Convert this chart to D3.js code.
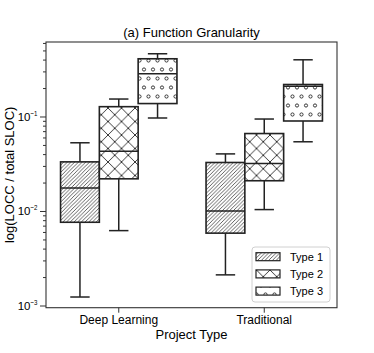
<!DOCTYPE html>
<html>
<head>
<meta charset="utf-8">
<script src="https://cdn.jsdelivr.net/npm/d3@7"></script>
<style>
  body { margin: 0; background: #fff; }
  svg text { font-family: "Liberation Sans", Arial, sans-serif; fill: #000; }
</style>
</head>
<body>
<svg id="chart" width="374" height="353"></svg>
<script>
// data: [whisker low, q1, median, q3, whisker high]
var categories = ['Deep Learning', 'Traditional'];
var types = ['Type 1', 'Type 2', 'Type 3'];
var type1Stats = [[0.00123, 0.0076, 0.0175, 0.0331, 0.0527], [0.00211, 0.00583, 0.0100, 0.0326, 0.0402]];
var type2Stats = [[0.0062, 0.0219, 0.043, 0.127, 0.153], [0.01035, 0.0209, 0.0318, 0.066, 0.094]];
var type3Stats = [[0.0964, 0.137, 0.283, 0.408, 0.461], [0.054, 0.0896, 0.209, 0.218, 0.398]];
var majorTicks = [1e-3, 1e-2, 1e-1];
var tickExponents = ['\u22123', '\u22122', '\u22121'];

var stats = [type1Stats, type2Stats, type3Stats];

var svg = d3.select('#chart');
var plotLeft = 46, plotRight = 337, plotTop = 42, plotBottom = 307.7;

var x = d3.scaleBand().domain(categories).range([plotLeft, plotRight]).padding(0);
var xHue = d3.scaleBand().domain(types).range([x.bandwidth() * 0.1, x.bandwidth() * 0.9]);
var y = d3.scaleLog().domain([0.000948, 0.614]).range([plotBottom, plotTop]);

var ink = '#222';

// hatch patterns
var defs = svg.append('defs');
var d1 = 3.7;
var p1 = defs.append('pattern').attr('id', 'h1').attr('patternUnits', 'userSpaceOnUse')
  .attr('width', d1).attr('height', d1);
p1.append('path').attr('d', 'M-1,1 L1,-1 M0,' + d1 + ' L' + d1 + ',0 M' + (d1 - 1) + ',' + (d1 + 1) + ' L' + (d1 + 1) + ',' + (d1 - 1))
  .attr('stroke', '#2a2a2a').attr('stroke-width', 0.75);

var p2 = defs.append('pattern').attr('id', 'h2').attr('patternUnits', 'userSpaceOnUse')
  .attr('width', 13.5).attr('height', 13.5);
p2.append('path').attr('d', 'M0,0 L13.5,13.5 M0,13.5 L13.5,0')
  .attr('stroke', ink).attr('stroke-width', 0.9);

var p3 = defs.append('pattern').attr('id', 'h3').attr('patternUnits', 'userSpaceOnUse')
  .attr('width', 9).attr('height', 18).attr('y', 2);
[[4.5, 4.5], [0, 13.5], [9, 13.5]].forEach(function(c) {
  p3.append('circle').attr('cx', c[0]).attr('cy', c[1]).attr('r', 1.6)
    .attr('fill', 'none').attr('stroke', ink).attr('stroke-width', 0.9);
});
var fills = ['url(#h1)', 'url(#h2)', 'url(#h3)'];

// boxes
var g = svg.append('g');
types.forEach(function(t, ti) {
  categories.forEach(function(c, ci) {
    var s = stats[ti][ci];
    var x0 = x(c) + xHue(t), w = xHue.bandwidth(), cx = x0 + w / 2;
    var bg = g.append('g');
    bg.append('line').attr('x1', cx).attr('x2', cx).attr('y1', y(s[0])).attr('y2', y(s[1]))
      .attr('stroke', ink).attr('stroke-width', 1.5);
    bg.append('line').attr('x1', cx).attr('x2', cx).attr('y1', y(s[3])).attr('y2', y(s[4]))
      .attr('stroke', ink).attr('stroke-width', 1.5);
    [s[0], s[4]].forEach(function(v) {
      bg.append('line').attr('x1', cx - w / 4).attr('x2', cx + w / 4).attr('y1', y(v)).attr('y2', y(v))
        .attr('stroke', ink).attr('stroke-width', 1.5);
    });
    bg.append('rect').attr('x', x0).attr('y', y(s[3])).attr('width', w).attr('height', y(s[1]) - y(s[3]))
      .attr('fill', '#fff');
    bg.append('rect').attr('x', x0).attr('y', y(s[3])).attr('width', w).attr('height', y(s[1]) - y(s[3]))
      .attr('fill', fills[ti]).attr('stroke', ink).attr('stroke-width', 1.6);
    bg.append('line').attr('x1', x0).attr('x2', x0 + w).attr('y1', y(s[2])).attr('y2', y(s[2]))
      .attr('stroke', ink).attr('stroke-width', 1.5);
  });
});

// frame
svg.append('rect').attr('x', plotLeft).attr('y', plotTop).attr('width', plotRight - plotLeft).attr('height', plotBottom - plotTop)
  .attr('fill', 'none').attr('stroke', '#333').attr('stroke-width', 1.1);

// y axis
var minor = [];
[-4, -3, -2, -1].forEach(function(e) {
  for (var k = 2; k <= 9; k++) {
    var v = k * Math.pow(10, e);
    if (v > y.domain()[0] && v < y.domain()[1]) minor.push(v);
  }
});
svg.append('g').attr('class', 'yminor').attr('transform', 'translate(' + plotLeft + ',0)')
  .call(d3.axisLeft(y).tickValues(minor).tickSize(3).tickFormat(''));
svg.append('g').attr('class', 'ymajor').attr('transform', 'translate(' + plotLeft + ',0)')
  .call(d3.axisLeft(y).tickValues(majorTicks).tickSize(6).tickFormat(''));
svg.selectAll('.domain').remove();
svg.selectAll('.tick line').attr('stroke', '#333').attr('stroke-width', 1);

var yl = svg.append('g').selectAll('text').data(majorTicks).enter().append('text')
  .attr('x', 37.5).attr('y', function(d) { return y(d) + 4.5; })
  .attr('text-anchor', 'end').attr('font-size', 11.5);
yl.append('tspan').text('10');
yl.append('tspan').attr('dy', -5).attr('font-size', 8).attr('textLength', 7).attr('lengthAdjust', 'spacingAndGlyphs')
  .text(function(d, i) { return tickExponents[i]; });

// x axis
svg.append('g').attr('transform', 'translate(0,' + plotBottom + ')')
  .call(d3.axisBottom(x).tickSize(5).tickPadding(3))
  .call(function(a) {
    a.select('.domain').remove();
    a.selectAll('.tick line').attr('stroke', '#333').attr('stroke-width', 1);
    a.selectAll('.tick text').attr('font-size', 12).attr('font-family', '"Liberation Sans", Arial, sans-serif').attr('fill', '#000');
  });

// labels
svg.append('text').attr('x', (plotLeft + plotRight) / 2).attr('y', 36.5).attr('text-anchor', 'middle')
  .attr('font-size', 13).text('(a) Function Granularity');
svg.append('text').attr('x', (plotLeft + plotRight) / 2).attr('y', 339).attr('text-anchor', 'middle')
  .attr('font-size', 13).text('Project Type');
svg.append('text').attr('transform', 'translate(14,' + ((plotTop + plotBottom) / 2) + ') rotate(-90)')
  .attr('text-anchor', 'middle').attr('font-size', 13).text('log(LOCC / total SLOC)');

// legend
var lg = svg.append('g');
lg.append('rect').attr('x', 252).attr('y', 247).attr('width', 78).attr('height', 55).attr('rx', 3)
  .attr('fill', '#fff').attr('fill-opacity', 0.8).attr('stroke', '#d0d0d0').attr('stroke-width', 1);
types.forEach(function(t, i) {
  var cy = 256.7 + i * 17.2;
  lg.append('rect').attr('x', 256).attr('y', cy - 4).attr('width', 24).attr('height', 8)
    .attr('fill', fills[i]).attr('stroke', ink).attr('stroke-width', 1.2);
  lg.append('text').attr('x', 290).attr('y', cy + 4).attr('font-size', 11).text(t);
});
</script>
</body>
</html>
